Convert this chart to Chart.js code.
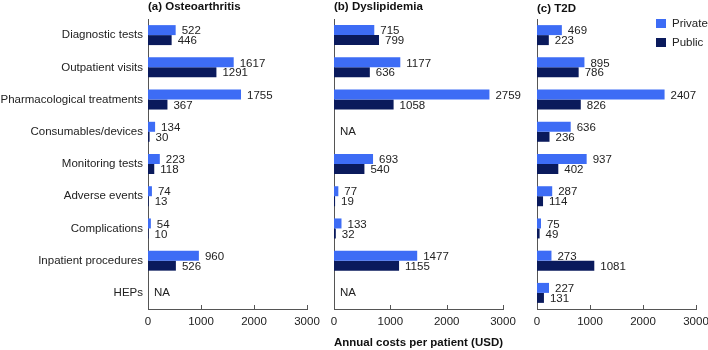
<!DOCTYPE html>
<html>
<head>
<meta charset="utf-8">
<script src="https://cdn.jsdelivr.net/npm/chart.js@4.4.1/dist/chart.umd.min.js"></script>
<style>
  html, body { margin: 0; padding: 0; background: #fff; }
  #wrap { position: relative; width: 708px; height: 350px; overflow: hidden; }
  #wrap canvas { position: absolute; left: 0; top: 0; }
  .legend { position: absolute; left: 656px; top: 17px; font: 11.5px "Liberation Sans", Arial, sans-serif; color: #222; }
  .legend div { height: 19px; line-height: 13px; white-space: nowrap; }
  .legend span { display: inline-block; width: 10px; height: 9px; margin-right: 6px; vertical-align: -1px; }
</style>
</head>
<body>
<div id="wrap">
  <canvas id="cA" width="708" height="350"></canvas>
  <canvas id="cB" width="708" height="350"></canvas>
  <canvas id="cC" width="708" height="350"></canvas>
  <div class="legend">
    <div><span style="background:#3d6cf5"></span>Private</div>
    <div><span style="background:#0a1a5c"></span>Public</div>
  </div>
</div>
<script>
  const categories = ["Diagnostic tests", "Outpatient visits", "Pharmacological treatments", "Consumables/devices",
    "Monitoring tests", "Adverse events", "Complications", "Inpatient procedures", "HEPs"];

  // null = NA
  const oaPrivate = [522, 1617, 1755, 134, 223, 74, 54, 960, null];
  const oaPublic = [446, 1291, 367, 30, 118, 13, 10, 526, null];
  const dysPrivate = [715, 1177, 2759, null, 693, 77, 133, 1477, null];
  const dysPublic = [799, 636, 1058, null, 540, 19, 32, 1155, null];
  const t2dPrivate = [469, 895, 2407, 636, 937, 287, 75, 273, 227];
  const t2dPublic = [223, 786, 826, 236, 402, 114, 49, 1081, 131];

  const xTicks = [0, 1000, 2000, 3000];

  const FONT = '"Liberation Sans", Arial, sans-serif';
  const PRIVATE = "#3d6cf5";
  const PUBLIC = "#0a1a5c";
  const AXIS = "#555";
  Chart.defaults.font.family = FONT;
  Chart.defaults.font.size = 11.5;
  Chart.defaults.color = "#222";

  // value labels at bar ends, "NA" where a whole row is missing
  const valueLabels = {
    id: "valueLabels",
    afterDatasetsDraw(chart) {
      const ctx = chart.ctx;
      ctx.save();
      ctx.font = "11.5px " + FONT;
      ctx.fillStyle = "#222";
      ctx.textAlign = "left";
      ctx.textBaseline = "middle";
      chart.data.datasets.forEach((ds, i) => {
        chart.getDatasetMeta(i).data.forEach((bar, j) => {
          if (ds.data[j] == null) return;
          ctx.fillText(String(ds.data[j]), bar.x + 6, bar.y + 1);
        });
      });
      const ys = chart.scales.y;
      chart.data.labels.forEach((_, j) => {
        if (chart.data.datasets.every(ds => ds.data[j] == null)) {
          ctx.fillText("NA", chart.chartArea.left + 6, ys.getPixelForValue(j));
        }
      });
      ctx.restore();
    }
  };

  // small inward tick marks on the x axis + panel title
  const panelDecor = {
    id: "panelDecor",
    afterDraw(chart, args, opts) {
      const ctx = chart.ctx;
      const xs = chart.scales.x;
      const area = chart.chartArea;
      ctx.save();
      ctx.strokeStyle = AXIS;
      ctx.lineWidth = 1;
      xTicks.forEach(v => {
        const px = Math.round(xs.getPixelForValue(v)) + 0.5;
        ctx.beginPath();
        ctx.moveTo(px, area.bottom);
        ctx.lineTo(px, area.bottom - 4);
        ctx.stroke();
      });
      ctx.font = "bold 11.5px " + FONT;
      ctx.fillStyle = "#111";
      ctx.textAlign = "left";
      ctx.textBaseline = "alphabetic";
      ctx.fillText(opts.text, area.left, opts.y);
      ctx.restore();
    }
  };

  function makePanel(id, title, titleY, priv, pub, pad, yWidth, showLabels, axisTitle) {
    new Chart(document.getElementById(id), {
      type: "bar",
      data: {
        labels: categories,
        datasets: [
          { label: "Private", data: priv, backgroundColor: PRIVATE },
          { label: "Public", data: pub, backgroundColor: PUBLIC }
        ]
      },
      options: {
        indexAxis: "y",
        responsive: false,
        animation: false,
        events: [],
        categoryPercentage: 0.62,
        barPercentage: 1,
        layout: { padding: { left: pad.left, right: pad.right, top: 19, bottom: 0 } },
        plugins: {
          legend: { display: false },
          tooltip: { enabled: false },
          panelDecor: { text: title, y: titleY }
        },
        scales: {
          x: {
            min: 0, max: 3000,
            afterBuildTicks: s => { s.ticks = xTicks.map(v => ({ value: v })); },
            grid: { display: false, drawTicks: false },
            border: { display: true, color: AXIS },
            ticks: { padding: 6, color: "#222", font: { size: 11.5 }, callback: v => String(v) },
            title: {
              display: !!axisTitle,
              text: axisTitle || "",
              color: "#111",
              font: { size: 11.5, weight: "bold" },
              padding: { top: 0, bottom: 0 }
            },
            afterFit: s => { s.height = 41; s.paddingLeft = 0; s.paddingRight = 0; }
          },
          y: {
            grid: { display: false, drawTicks: false },
            border: { display: true, color: AXIS },
            ticks: { display: showLabels, padding: 5, color: "#222", font: { size: 11.5 } },
            afterFit: s => { s.width = yWidth; s.paddingTop = 0; s.paddingBottom = 0; }
          }
        }
      },
      plugins: [valueLabels, panelDecor]
    });
  }

  makePanel("cA", "(a) Osteoarthritis", 10, oaPrivate, oaPublic, { left: 0, right: 401 }, 148, true);
  makePanel("cB", "(b) Dyslipidemia", 10, dysPrivate, dysPublic, { left: 320, right: 205 }, 14, false,
    "Annual costs per patient (USD)");
  makePanel("cC", "(c) T2D", 12, t2dPrivate, t2dPublic, { left: 520, right: 12 }, 17, false);
</script>
</body>
</html>
